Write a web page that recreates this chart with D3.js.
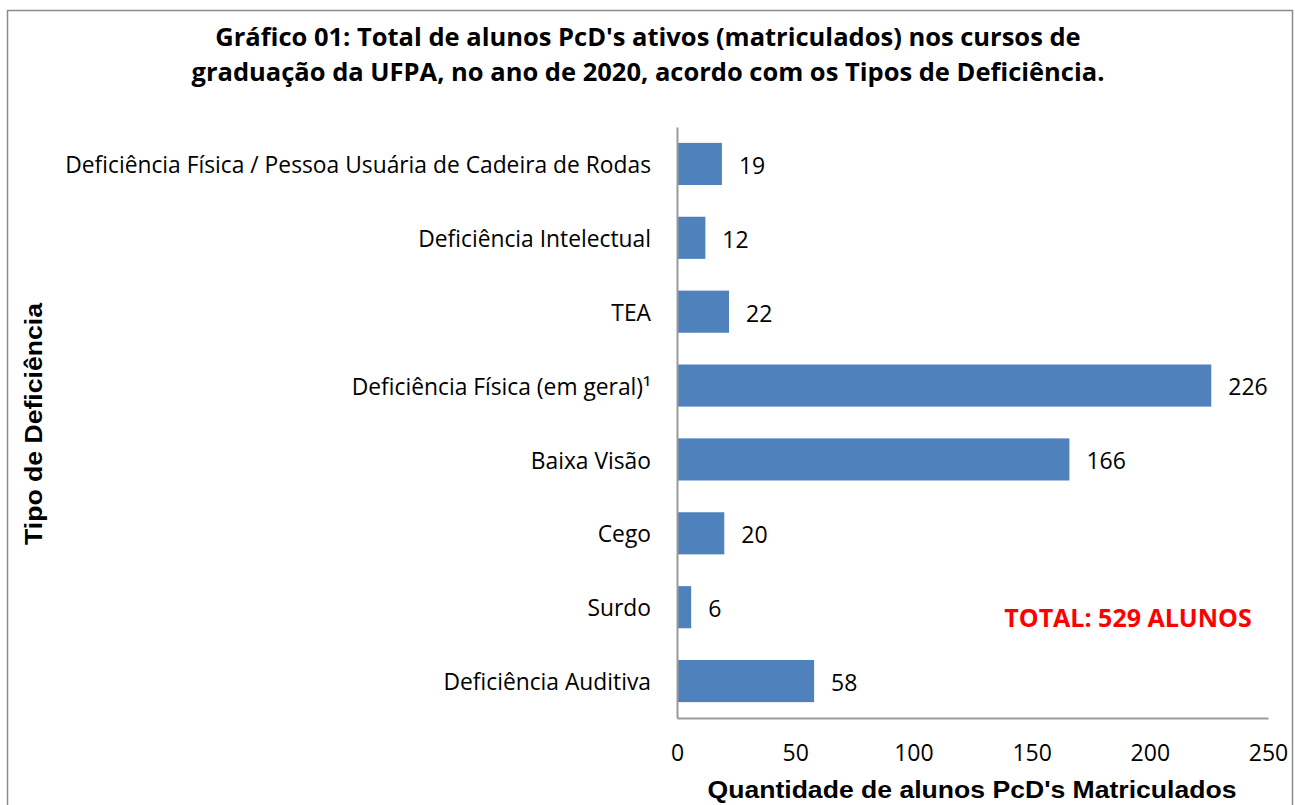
<!DOCTYPE html>
<html>
<head>
<meta charset="utf-8">
<script src="https://cdn.jsdelivr.net/npm/d3@7"></script>
<style>
  body { margin: 0; background: #fff; }
  svg { display: block; }
</style>
</head>
<body>
<script>
// data
const categories = [
  "Deficiência Física / Pessoa Usuária de Cadeira de Rodas",
  "Deficiência Intelectual",
  "TEA",
  "Deficiência Física (em geral)¹",
  "Baixa Visão",
  "Cego",
  "Surdo",
  "Deficiência Auditiva"
];
const values = [19, 12, 22, 226, 166, 20, 6, 58];
const xTicks = [0, 50, 100, 150, 200, 250];

const w = 1295;
const h = 805;
const margin = { top: 127, right: 27, bottom: 87, left: 677 };

const svg = d3.select("body")
  .append("svg")
  .attr("width", w)
  .attr("height", h);

// chart frame
svg.append("rect")
  .attr("x", 7.5).attr("y", 10.5)
  .attr("width", 1285).attr("height", 820)
  .attr("fill", "none")
  .attr("stroke", "#8c8c8c")
  .attr("stroke-width", 1.5);

const x = d3.scaleLinear()
  .domain([0, 250])
  .range([margin.left, w - margin.right]);

const y = d3.scaleBand()
  .domain(categories)
  .range([margin.top, h - margin.bottom])
  .paddingInner(0.43)
  .paddingOuter(0.215);

const font = "'Open Sans', Lato, sans-serif";
const arial = "'Liberation Sans', Arial, sans-serif";

// title, two lines
const titleLines = [
  "Gráfico 01: Total de alunos PcD's ativos (matriculados) nos cursos de",
  "graduação da UFPA, no ano de 2020, acordo com os Tipos de Deficiência."
];
svg.selectAll("text.title")
  .data(titleLines)
  .enter()
  .append("text")
  .attr("class", "title")
  .attr("x", 648)
  .attr("y", (d, i) => 46 + i * 35)
  .attr("text-anchor", "middle")
  .style("font-family", font).style("font-weight", "bold").style("font-size", "25.5px")
  .text(d => d);

// bars
svg.selectAll("rect.bar")
  .data(values)
  .enter()
  .append("rect")
  .attr("class", "bar")
  .attr("x", x(0))
  .attr("y", (d, i) => y(categories[i]))
  .attr("width", d => x(d) - x(0))
  .attr("height", y.bandwidth())
  .style("fill", "#4f81bd");

// value labels
svg.selectAll("text.val")
  .data(values)
  .enter()
  .append("text")
  .attr("class", "val")
  .attr("x", d => x(d) + 17)
  .attr("y", (d, i) => y(categories[i]) + y.bandwidth() / 2)
  .attr("dy", "0.43em")
  .style("font-family", font).style("font-size", "23px")
  .text(d => d);

// y axis
const yAxis = svg.append("g")
  .attr("transform", `translate(${margin.left},0)`)
  .call(d3.axisLeft(y).tickSize(0).tickPadding(26));
yAxis.select(".domain").attr("stroke", "#9a9a9a").attr("stroke-width", 2);
yAxis.selectAll("text")
  .attr("dy", "0.4em")
  .style("font-family", font).style("font-size", "22.8px").attr("fill", "#000");

// x axis
const xAxis = svg.append("g")
  .attr("transform", `translate(0,${h - margin.bottom})`)
  .call(d3.axisBottom(x).tickValues(xTicks).tickSize(0).tickPadding(27));
xAxis.select(".domain").attr("stroke", "#9a9a9a").attr("stroke-width", 2);
xAxis.selectAll("text")
  .style("font-family", font).style("font-size", "23px").attr("fill", "#000");

// axis titles
svg.append("text")
  .attr("x", 972).attr("y", 798)
  .attr("text-anchor", "middle")
  .attr("textLength", 529).attr("lengthAdjust", "spacingAndGlyphs")
  .style("font-family", arial)
  .style("font-weight", "bold").style("font-size", "23px")
  .text("Quantidade de alunos PcD's Matriculados");

svg.append("text")
  .attr("transform", "translate(42,424) rotate(-90)")
  .attr("text-anchor", "middle")
  .attr("textLength", 242).attr("lengthAdjust", "spacingAndGlyphs")
  .style("font-family", arial)
  .style("font-weight", "bold").style("font-size", "23.5px")
  .text("Tipo de Deficiência");

// total note
svg.append("text")
  .attr("x", 1128).attr("y", 627)
  .attr("text-anchor", "middle")
  .style("font-family", font).style("font-weight", "bold").style("font-size", "25px")
  .attr("fill", "#ff0000")
  .text("TOTAL: 529 ALUNOS");
</script>
</body>
</html>
